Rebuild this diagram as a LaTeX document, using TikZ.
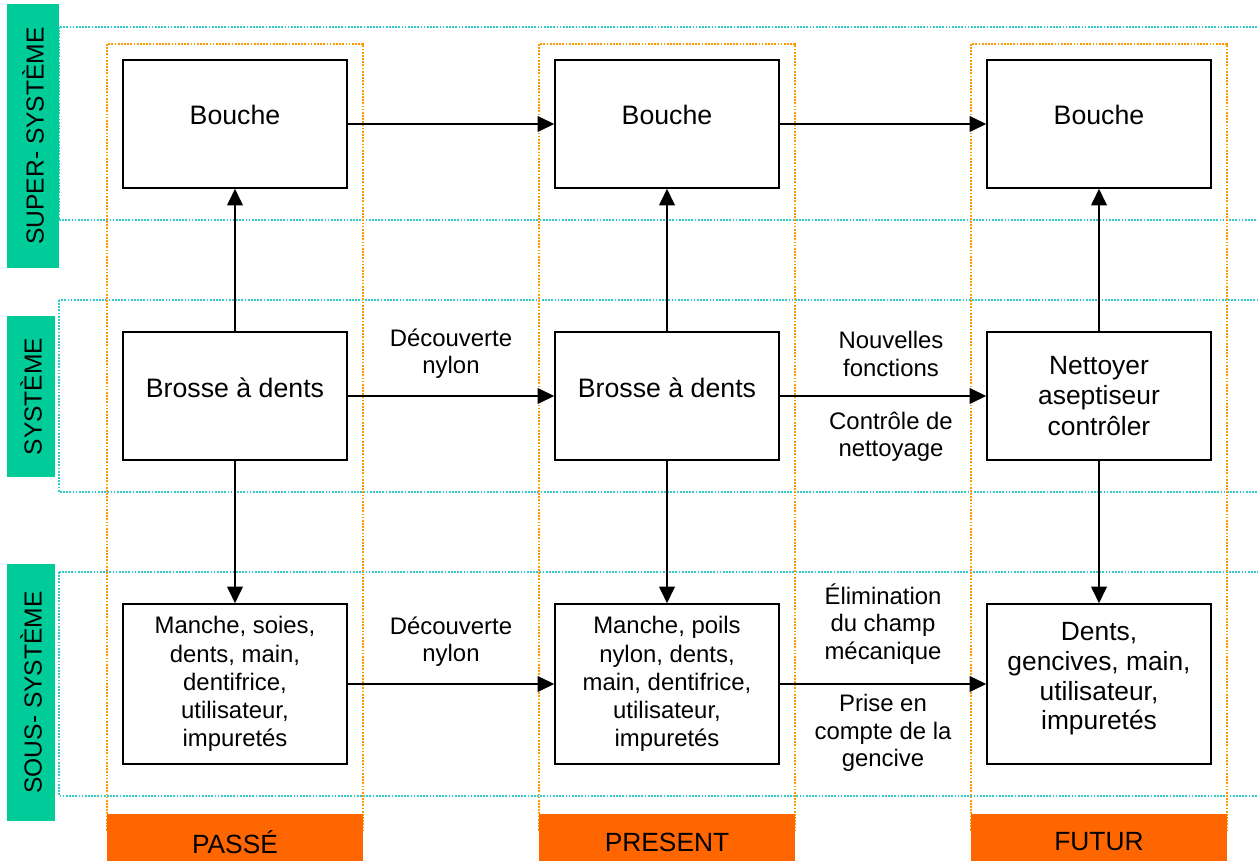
\documentclass[tikz,border=0pt]{standalone}
\usepackage{fontspec}
\setmainfont{Liberation Sans}
\usetikzlibrary{positioning,arrows.meta}

\definecolor{bandcyan}{HTML}{33CCCC}
\definecolor{colorange}{HTML}{FF9900}
\definecolor{levelgreen}{HTML}{00CC99}
\definecolor{periodorange}{HTML}{FF6600}

\begin{document}
\begin{tikzpicture}[
    x=0.02cm, y=-0.02cm,
    >={Triangle[length=9.5pt,width=9pt]},
    sysbox/.style={
        draw,
        line width=0.9pt,
        fill=white,
        minimum width=4.48cm,
        minimum height=2.56cm,
        align=center,
        font=\fontsize{15.2}{18}\selectfont
    },
    single/.style={sysbox, text depth=10pt},
    partsbox/.style={sysbox, minimum height=3.2cm, font=\fontsize{13.6}{16}\selectfont},
    edgelbl/.style={align=center, font=\fontsize{13.6}{15.5}\selectfont},
    levelbar/.style={fill=levelgreen, rotate=90, inner sep=0pt, font=\fontsize{14}{17}\selectfont},
    periodbar/.style={fill=periodorange, minimum width=5.12cm, minimum height=1.12cm,
        inner sep=0pt, font=\fontsize{15}{18}\selectfont},
    levelband/.style={draw=bandcyan, line width=1pt, dash pattern=on 1pt off 0.8pt},
    periodcol/.style={draw=colorange, line width=1pt, dash pattern=on 1pt off 0.8pt},
    flow/.style={->, line width=0.8pt}
]
\useasboundingbox (0,0) rectangle (1258,861);
\clip (0,0) rectangle (1258,861);

% Levels and periods
\draw[levelband] (59,27) rectangle (1300,220);
\draw[levelband] (59,300) rectangle (1300,492);
\draw[levelband] (59,572) rectangle (1300,796);
\draw[periodcol] (107,44) rectangle (363,830);
\draw[periodcol] (539,44) rectangle (795,830);
\draw[periodcol] (971,44) rectangle (1227,830);

\node[levelbar, minimum width=5.28cm, minimum height=1.04cm] (super) at (33,136) {SUPER- SYSTÈME};
\node[levelbar, minimum width=3.22cm, minimum height=0.96cm] (sys) at (31,396.5) {SYSTÈME};
\node[levelbar, minimum width=5.14cm, minimum height=0.96cm] (sous) at (31,692.5) {SOUS- SYSTÈME};

\node[periodbar] (passe) at (235,842) {PASSÉ};
\node[periodbar] (present) at (667,842) {PRESENT};
\node[periodbar] (futur) at (1099,842) {FUTUR};

% Super-systeme
\node[single] (B1) at (235,124) {Bouche};
\node[single] (B2) at (667,124) {Bouche};
\node[single] (B3) at (1099,124) {Bouche};

% Systeme
\node[single] (S1) at (235,396) {Brosse à dents};
\node[single] (S2) at (667,396) {Brosse à dents};
\node[sysbox, font=\fontsize{15}{17.5}\selectfont] (S3) at (1099,396) {Nettoyer\\aseptiseur\\contrôler};

% Sous-systeme
\node[partsbox] (P1) at (235,684) {Manche, soies,\\dents, main,\\dentifrice,\\utilisateur,\\impuretés};
\node[partsbox] (P2) at (667,684) {Manche, poils\\nylon, dents,\\main, dentifrice,\\utilisateur,\\impuretés};
\node[partsbox, font=\fontsize{15}{17}\selectfont, text depth=9pt] (P3) at (1099,684) {Dents,\\gencives, main,\\utilisateur,\\impuretés};

\draw[flow] (B1)--(B2);
\draw[flow] (B2)--(B3);
\draw[flow] (S1)--(S2);
\draw[flow] (S2)--(S3);
\draw[flow] (P1)--(P2);
\draw[flow] (P2)--(P3);
\draw[flow] (S1)--(B1);
\draw[flow] (S2)--(B2);
\draw[flow] (S3)--(B3);
\draw[flow] (S1)--(P1);
\draw[flow] (S2)--(P2);
\draw[flow] (S3)--(P3);

% Transitions
\node[edgelbl] (nylon1) at (451,354) {Découverte\\nylon};
\node[edgelbl] (nylon2) at (451,642) {Découverte\\nylon};
\node[edgelbl] (fonctions) at (891,354) {Nouvelles\\fonctions};
\node[edgelbl] (controle) at (891,437) {Contrôle de\\nettoyage};
\node[edgelbl] (champ) at (883,624) {Élimination\\du champ\\mécanique};
\node[edgelbl] (gencive) at (883,733) {Prise en\\compte de la\\gencive};

\end{tikzpicture}
\end{document}
